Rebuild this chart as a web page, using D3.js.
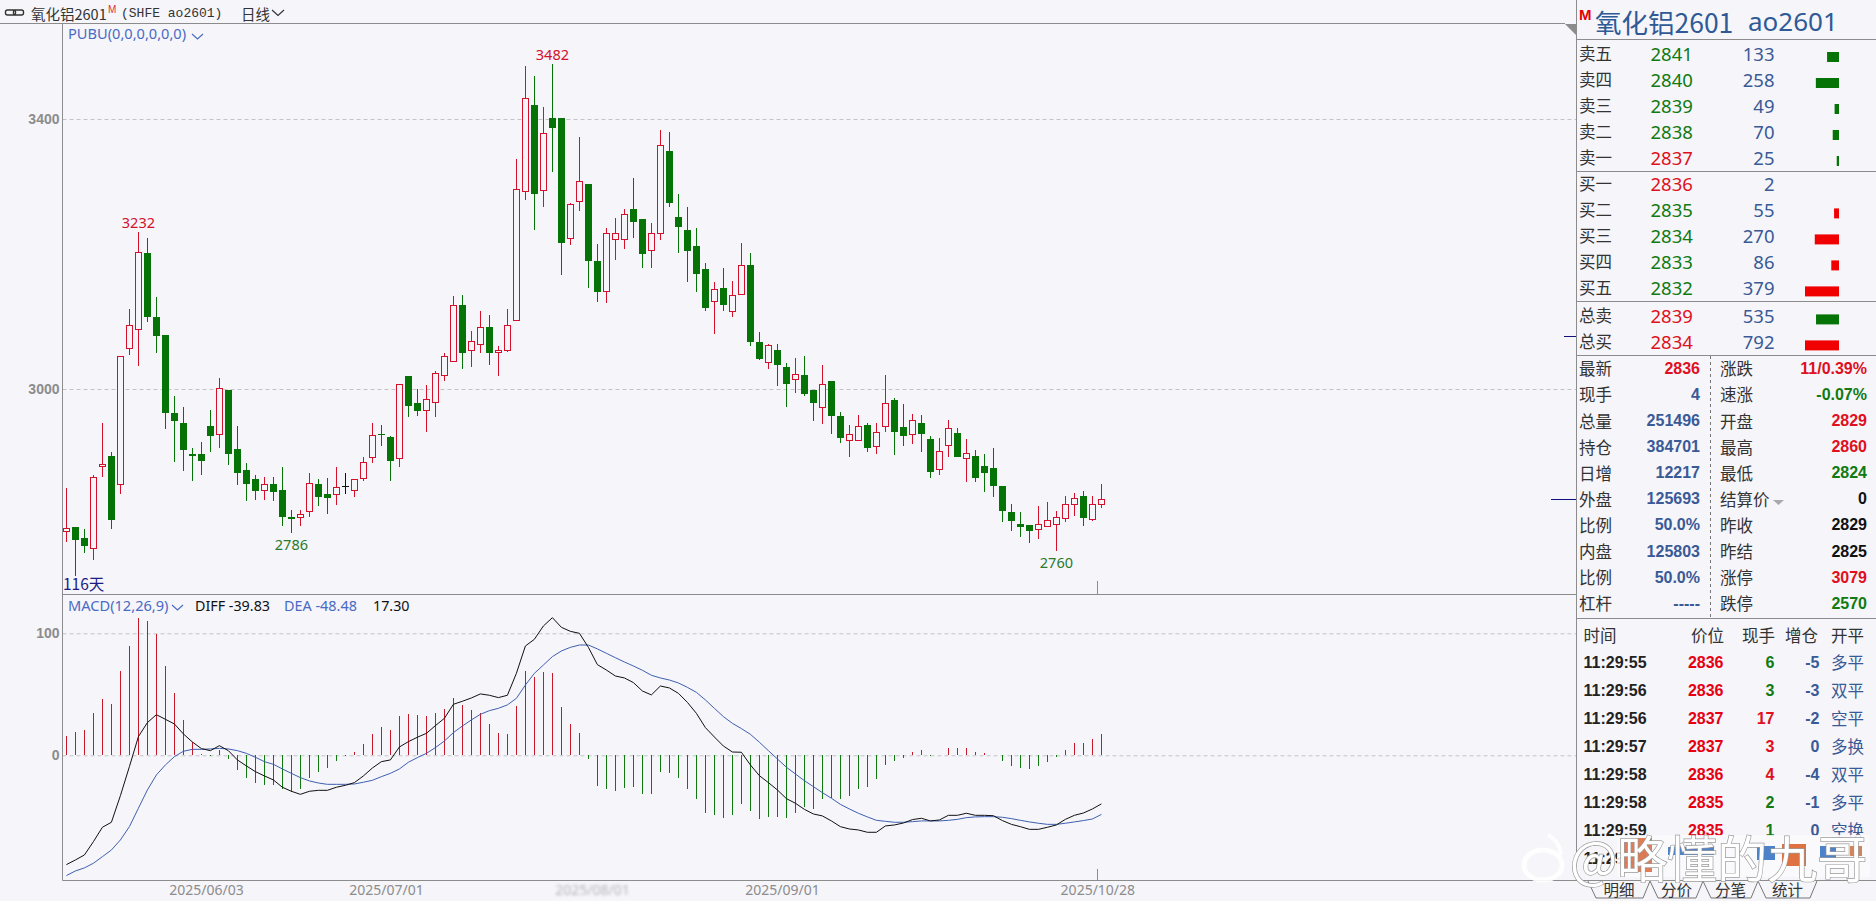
<!DOCTYPE html>
<html>
<head>
<meta charset="utf-8">
<title>氧化铝2601</title>
<script src="https://cdn.jsdelivr.net/npm/d3@7"></script>
<style>
  html, body { margin: 0; padding: 0; background: #f5f5fa; overflow: hidden; }
  svg { display: block; }
  text { font-family: "Noto Sans CJK SC", "Noto Sans", sans-serif; }
</style>
</head>
<body>
<script>
"use strict"

// daily candles
const openP = [2789,2795,2780,2764,2885,2901,2859,3060,3088,3202,
   3106,3080,2965,2949,2903,2903,2945,2932,2999,2911,
   2880,2866,2850,2859,2850,2811,2810,2819,2860,2845,
   2844,2856,2850,2867,2899,2934,2929,2897,3020,2979,
   2968,2980,3020,3041,3125,3057,3066,3092,3054,3057,
   3102,3292,3421,3294,3402,3402,3223,3278,3303,3190,
   3145,3221,3222,3267,3252,3205,3230,3352,3255,3236,
   3212,3178,3130,3150,3115,3140,3183,3070,3040,3058,
   3032,3014,3021,2999,2973,3012,2960,2923,2923,2946,
   2915,2945,2983,2944,2932,2950,2926,2881,2916,2935,
   2897,2901,2886,2883,2856,2818,2800,2798,2792,2797,
   2800,2808,2829,2842,2807,2829]
const closeP = [2793,2777,2768,2869,2888,2806,3048,3094,3202,3106,
   3078,2965,2953,2910,2901,2893,2931,3001,2904,2875,
   2860,2849,2859,2848,2811,2808,2814,2860,2840,2839,
   2854,2856,2866,2891,2931,2932,2894,3007,2975,2968,
   2985,3023,3048,3124,3054,3071,3091,3054,3057,3094,
   3296,3430,3289,3379,3387,3217,3273,3308,3189,3143,
   3230,3230,3258,3248,3200,3230,3361,3275,3240,3205,
   3171,3120,3147,3124,3138,3183,3069,3045,3064,3035,
   3008,3022,2992,2980,3006,2960,2928,2933,2945,2913,
   2935,2979,2937,2931,2953,2934,2877,2907,2942,2900,
   2904,2868,2875,2856,2820,2805,2796,2789,2800,2805,
   2809,2829,2838,2809,2829,2836]
const highP = [2854,2795,2792,2872,2949,2906,3048,3119,3232,3223,
   3136,3080,2990,2973,2912,2922,2969,3016,2999,2945,
   2891,2872,2869,2869,2885,2821,2821,2876,2866,2868,
   2884,2876,2866,2900,2949,2946,2930,3008,3020,3000,
   3006,3026,3054,3138,3139,3086,3116,3110,3064,3119,
   3341,3479,3463,3418,3482,3402,3276,3373,3303,3215,
   3239,3254,3266,3312,3252,3246,3384,3381,3289,3269,
   3239,3187,3159,3180,3160,3217,3201,3084,3067,3067,
   3039,3046,3049,2999,3036,3012,2966,2947,2961,2949,
   2950,3021,2987,2978,2963,2962,2931,2927,2954,2942,
   2926,2910,2904,2913,2857,2830,2818,2798,2827,2833,
   2819,2842,2846,2849,2842,2860]
const lowP = [2774,2723,2757,2746,2869,2793,2845,3051,3034,3100,
   3053,2941,2892,2878,2864,2872,2907,2913,2887,2858,
   2834,2836,2835,2834,2797,2786,2797,2811,2826,2815,
   2828,2845,2840,2863,2891,2915,2863,2885,2958,2960,
   2937,2958,3012,3041,3030,3032,3054,3036,3020,3055,
   3102,3280,3236,3269,3321,3169,3214,3263,3149,3129,
   3128,3191,3208,3223,3180,3180,3221,3269,3201,3159,
   3144,3115,3081,3115,3107,3140,3064,3043,3029,3005,
   2974,2994,2989,2953,2948,2934,2920,2900,2923,2906,
   2903,2937,2902,2915,2918,2906,2868,2872,2899,2900,
   2862,2862,2848,2840,2803,2790,2781,2772,2778,2795,
   2760,2803,2812,2797,2805,2824]

// MACD panel
const macdBar = [15.8,19,20.8,34.7,46,42,69,89.6,112.6,110,
   99.5,73,51,29,11,1,-0.3,4.4,-2.7,-12,
   -18.3,-23,-24,-24.3,-28,-30,-27.6,-18.9,-13.7,-10.4,
   -4.6,-0.3,2.5,9.3,17.5,23,20.8,32.5,34,33,
   32,34.4,38,47,41,37,34.4,25.7,18.3,17.5,
   40.4,69,64,68,67.5,39.6,25.7,18.3,-3,-24.9,
   -27.6,-29,-26.5,-26.2,-31.4,-31.4,-13.4,-14.5,-19,-27.6,
   -35.5,-47,-48.6,-51,-48.6,-40,-46,-52,-50.5,-50.3,
   -51,-47,-42,-43.7,-36,-35,-35.5,-33.3,-27.6,-26,
   -19.4,-7.9,-4.6,-1.9,2.7,4.4,-0.2,0.2,6.3,6,
   6.3,2.7,1.6,0,-4.6,-8.7,-10.4,-11.2,-8.7,-5.5,
   -1.4,4.4,10,10.4,13.4,17.3]
const diff = [-89.6,-85.8,-81.7,-70.8,-59,-54.9,-33.1,-9.3,15.3,26.8,
   33.3,29.5,25.7,17.5,10.9,5.5,3.8,7.9,3.8,-3.8,
   -8.7,-13.4,-16.9,-20.2,-26.2,-29.5,-32,-29.5,-28.7,-28.7,
   -26.2,-24.6,-22.4,-16.9,-10.4,-5.2,-3.8,6.8,11.2,14.8,
   18,24.3,30.3,41.8,44.3,47,50.3,49.2,47.3,49.2,
   67.2,89.6,95.1,106,112.8,104.9,101.6,100,88.5,74.3,
   69.9,65,63.4,59.6,52.7,49.5,56.8,55.2,50.8,43.4,
   34.4,22.7,15,7.6,2.7,2.5,-7.9,-16.7,-22.4,-28.4,
   -35.5,-39.3,-44.3,-48.1,-49.7,-53.8,-58.5,-60.4,-61.2,-63.1,
   -63.1,-57.9,-57.1,-55.5,-52.7,-51.6,-53.8,-53,-49.2,-49.2,
   -47.5,-49.2,-49.2,-49.5,-53.5,-56.6,-58.5,-60.7,-60.7,-59,
   -57.1,-52.5,-49.2,-47.3,-44,-39.83]
const dea = [-98.6,-94.8,-92.3,-88.5,-83.1,-77.6,-69.4,-58.5,-43.4,-28.4,
   -16.1,-7.9,-1.1,3.3,4.9,4.9,5.2,5.7,5.2,3.8,
   1.6,-1.6,-5.2,-7.4,-11.2,-14.8,-18.3,-21,-22.7,-23.8,
   -23.8,-23.8,-23.5,-22.1,-20.5,-17.5,-14.8,-11.2,-5.7,-1.9,
   1.6,6.3,11.7,18.6,24,29,33.6,36.6,38.5,41.3,
   46.7,57.6,67.2,74,80.9,85.5,88.5,90.4,90.4,87.2,
   83.6,80,76.5,73.2,69.7,65.6,63.4,61.7,59.3,55.7,
   51.6,45.4,38.5,31.7,26.2,21.9,17.2,10.7,3.8,-3,
   -9.8,-15.3,-20.8,-25.7,-30.6,-35.2,-40.2,-44,-47.5,-50.5,
   -53.3,-54.1,-54.9,-54.9,-54.4,-53.8,-53.8,-53.8,-53.3,-52.5,
   -51.1,-50.5,-50.3,-50.3,-50.8,-51.9,-53.3,-54.6,-55.7,-56.6,
   -56.6,-55.7,-54.6,-53.5,-52.2,-48.48]

const priceTicks = [3000, 3400]
const macdTicks = [0, 100]
const dateTicks = [15.5, 35.5, 58.4, 79.5, 114.55]
const dateLabels = ['2025/06/03', '2025/07/01', '2025/08/01', '2025/09/01', '2025/10/28']
const peakIdx = [8, 25, 54, 110]
const peakVal = [3232, 2786, 3482, 2760]

// quote panel
const bookLabels = ['卖五', '卖四', '卖三', '卖二', '卖一', '买一', '买二', '买三', '买四', '买五']
const bookPrices = [2841, 2840, 2839, 2838, 2837, 2836, 2835, 2834, 2833, 2832]
const bookVols = [133, 258, 49, 70, 25, 2, 55, 270, 86, 379]
const totalLabels = ['总卖', '总买']
const totalPrices = [2839, 2834]
const totalVols = [535, 792]
const statLabelsL = ['最新', '现手', '总量', '持仓', '日增', '外盘', '比例', '内盘', '比例', '杠杆']
const statValuesL = ['2836', '4', '251496', '384701', '12217', '125693', '50.0%', '125803', '50.0%', '-----']
const statLabelsR = ['涨跌', '速涨', '开盘', '最高', '最低', '结算价', '昨收', '昨结', '涨停', '跌停']
const statValuesR = ['11/0.39%', '-0.07%', '2829', '2860', '2824', '0', '2829', '2825', '3079', '2570']
const tickTimes = ['11:29:55', '11:29:56', '11:29:56', '11:29:57', '11:29:58', '11:29:58', '11:29:59', '11:29:59']
const tickPrices = [2836, 2836, 2837, 2837, 2836, 2835, 2835]
const tickHands = [6, 3, 17, 3, 4, 2, 1]
const tickDeltas = [-5, -3, -2, 0, -4, -1, 0]
const tickKinds = ['多平', '双平', '空平', '多换', '双平', '多平', '空换']
const tabNames = ['明细', '分价', '分笔', '统计']

const w = 1876
const h = 901
const bg = '#f5f5fa'
const red = '#d4102a'
const green = '#067306'
const blue = '#3a5a96'
const axisGrey = '#8c8c8c'
const sideFont = '"Noto Sans", sans-serif'
const boldFont = '"Liberation Sans", sans-serif'

const svg = d3.select('body').append('svg').attr('width', w).attr('height', h)
svg.append('rect').attr('width', w).attr('height', h).attr('fill', bg)

const x = d3.scaleLinear().domain([0, 115]).range([66.4, 1101.4])
const yPrice = d3.scaleLinear().domain([3000, 3400]).range([389, 119])
const yMacd = d3.scaleLinear().domain([0, 100]).range([755.3, 633.3])

function hline(x1, x2, y, color = axisGrey) {
   svg.append('line').attr('x1', x1).attr('x2', x2).attr('y1', y).attr('y2', y)
      .attr('stroke', color).attr('stroke-width', 1)
}
function vline(xp, y1, y2, color = axisGrey) {
   svg.append('line').attr('x1', xp).attr('x2', xp).attr('y1', y1).attr('y2', y2)
      .attr('stroke', color).attr('stroke-width', 1)
}
function label(str, xp, yp, size, color, anchor = 'start', family = null, weight = 'normal') {
   const t = svg.append('text').attr('x', xp).attr('y', yp)
      .attr('dominant-baseline', 'central')
      .attr('text-anchor', anchor)
      .attr('font-size', size)
      .attr('font-weight', weight)
      .attr('fill', color)
      .text(str)
   if (family) t.style('font-family', family)
   return t
}
function chevron(xp, yp, size, color) {
   svg.append('path')
      .attr('d', `M${xp},${yp} L${xp + size / 2},${yp + size * 0.45} L${xp + size},${yp}`)
      .attr('fill', 'none').attr('stroke', color).attr('stroke-width', 1.2)
}

// axes and gridlines
const gridW = 1576 - 62.5
const priceAxis = d3.axisLeft(yPrice).tickValues(priceTicks).tickSize(-gridW).tickPadding(3)
   .tickFormat(d3.format('d'))
const macdAxis = d3.axisLeft(yMacd).tickValues(macdTicks).tickSize(-gridW).tickPadding(3)
   .tickFormat(d3.format('d'))
;[[priceAxis, 'price-axis'], [macdAxis, 'macd-axis']].forEach(([axis, id]) => {
   const g = svg.append('g').attr('id', id).attr('transform', 'translate(62.5, 0)').call(axis)
   g.select('.domain').remove()
   g.selectAll('line').attr('stroke', '#c4c4c8').attr('stroke-dasharray', '4,3')
   g.selectAll('text').attr('fill', axisGrey).attr('font-size', 14).attr('font-weight', 'bold')
      .style('font-family', boldFont)
})

const dateAxis = d3.axisBottom(x).tickValues(dateTicks).tickSize(0).tickPadding(5)
   .tickFormat((d, i) => dateLabels[i])
const dateG = svg.append('g').attr('id', 'x-axis').attr('transform', 'translate(0, 880.5)').call(dateAxis)
dateG.select('.domain').remove()
dateG.selectAll('text').attr('fill', axisGrey).attr('font-size', 14).style('font-family', sideFont)
dateG.selectAll('text').filter((d, i) => i === 2).style('filter', 'blur(1.6px)').attr('opacity', 0.6)

// frame
vline(62.5, 23.5, 880.5)
vline(1576.5, 0, 880.5)
hline(0, 1565, 23.5)
hline(62.5, 1576, 594.5)
hline(62.5, 1876, 880.5)
vline(1097.5, 581, 594)
vline(1097.5, 869, 880)
svg.append('path').attr('d', 'M1565,24 L1576,24 L1576,35 Z').attr('fill', '#8c8c8c')
hline(1551, 1576, 499.5, '#101080')
hline(1564, 1576, 336.5, '#101080')

// candles
const candles = svg.append('g').attr('id', 'candles').attr('shape-rendering', 'crispEdges').selectAll('g')
   .data(openP.map((o, i) => ({ i, o, c: closeP[i], h: highP[i], l: lowP[i] })))
   .enter().append('g')
const colorOf = d => d.c > d.o ? red : d.c < d.o ? green : '#111'

candles.append('line')
   .attr('x1', d => x(d.i)).attr('x2', d => x(d.i))
   .attr('y1', d => yPrice(d.h)).attr('y2', d => yPrice(d.l))
   .attr('stroke', colorOf).attr('stroke-width', 1)
candles.filter(d => d.c > d.o).append('rect')
   .attr('x', d => x(d.i) - 2.9).attr('width', 5.8)
   .attr('y', d => yPrice(d.c)).attr('height', d => yPrice(d.o) - yPrice(d.c))
   .attr('fill', bg).attr('stroke', red).attr('stroke-width', 1)
candles.filter(d => d.c < d.o).append('rect')
   .attr('x', d => x(d.i) - 3.5).attr('width', 7)
   .attr('y', d => yPrice(d.o)).attr('height', d => Math.max(1.5, yPrice(d.c) - yPrice(d.o)))
   .attr('fill', green)
candles.filter(d => d.c === d.o).append('line')
   .attr('x1', d => x(d.i) - 3.5).attr('x2', d => x(d.i) + 3.5)
   .attr('y1', d => yPrice(d.o)).attr('y2', d => yPrice(d.o))
   .attr('stroke', '#111').attr('stroke-width', 1)

// high and low marks
peakIdx.forEach((idx, k) => {
   const isHigh = peakVal[k] === highP[idx]
   label(peakVal[k], x(idx), yPrice(peakVal[k]) + (isHigh ? -10 : 10.5), 14.5,
      isHigh ? red : '#2a7a2a', 'middle', sideFont)
})
label('116天', 63, 583, 15.5, '#1c1c86')
label('PUBU(0,0,0,0,0,0)', 68, 33, 14.6, '#4a6ac4', 'start', sideFont)
chevron(192, 34, 11, '#4a6ac4')

// MACD histogram and lines
svg.append('g').attr('id', 'macd-bars').attr('shape-rendering', 'crispEdges').selectAll('line')
   .data(macdBar).enter().append('line')
   .attr('x1', (d, i) => x(i)).attr('x2', (d, i) => x(i))
   .attr('y1', yMacd(0)).attr('y2', d => yMacd(d))
   .attr('stroke', d => d >= 0 ? '#c8182c' : '#107a10').attr('stroke-width', 1)
const macdLine = d3.line().x((d, i) => x(i)).y(d => yMacd(d))
svg.append('path').attr('d', macdLine(dea)).attr('fill', 'none').attr('stroke', '#3f5fb0').attr('stroke-width', 1)
svg.append('path').attr('d', macdLine(diff)).attr('fill', 'none').attr('stroke', '#111').attr('stroke-width', 1)

label('MACD(12,26,9)', 68, 605, 14.6, '#4a6ac4', 'start', sideFont)
chevron(172, 605, 11, '#4a6ac4')
label('DIFF -39.83', 195, 605, 14.3, '#111', 'start', sideFont)
label('DEA -48.48', 284, 605, 14.4, '#4a6ac4', 'start', sideFont)
label('17.30', 373, 605, 14.3, '#111', 'start', sideFont)

// top bar
svg.append('rect').attr('x', 5.5).attr('y', 10).attr('width', 10).attr('height', 5).attr('rx', 2)
   .attr('fill', 'none').attr('stroke', '#333').attr('stroke-width', 1.4)
svg.append('rect').attr('x', 13.5).attr('y', 10).attr('width', 10).attr('height', 5).attr('rx', 2)
   .attr('fill', 'none').attr('stroke', '#333').attr('stroke-width', 1.4)
label('氧化铝2601', 31, 13, 14.5, '#333')
label('M', 108, 9, 10, '#e0303a', 'start', boldFont)
label('(SHFE ao2601)', 121, 13, 13, '#333', 'start', '"Liberation Mono", monospace')
label('日线', 241, 13, 14.5, '#333')
chevron(272, 10, 12, '#333')

// quote panel header
label('M', 1579, 14, 15, '#e60000', 'start', boldFont, 'bold')
label('氧化铝2601', 1595, 21, 26.5, '#2f5a96')
label('ao2601', 1748, 21, 26, '#2f5a96', 'start', sideFont)

hline(1577, 1876, 39.5)
hline(1577, 1876, 171.5)
hline(1577, 1876, 301.5)
hline(1577, 1876, 355.5)
hline(1577, 1876, 618.5)
svg.append('line').attr('x1', 1710.5).attr('x2', 1710.5).attr('y1', 356).attr('y2', 618)
   .attr('stroke', '#777').attr('stroke-dasharray', '3,3')

// order book
const bookY = d3.scaleBand().domain(d3.range(5)).range([41.3, 171.3])
const bookY2 = d3.scaleBand().domain(d3.range(5)).range([171.7, 301.7])
const bookW = d3.scaleLinear().domain([0, 379]).range([0, 34])
const totalW = d3.scaleLinear().domain([0, 792]).range([0, 34])
const priceColor = p => p === 2836 || p === 2837 ? '#e01020' : '#117a11'

bookLabels.forEach((s, i) => {
   const yp = i < 5 ? bookY(i) + 13 : bookY2(i - 5) + 13
   label(s, 1579, yp - 1.5, 16.5, '#333')
   label(bookPrices[i], 1650.5, yp - 1, 18.5, priceColor(bookPrices[i]), 'start', sideFont)
   label(bookVols[i], 1774.5, yp - 1, 18.5, blue, 'end', sideFont)
   if (i === 5) return
   svg.append('rect').attr('x', 1839 - bookW(bookVols[i])).attr('y', yp - 2.3)
      .attr('width', bookW(bookVols[i])).attr('height', 10)
      .attr('fill', i < 5 ? '#067306' : '#f00000')
})
totalLabels.forEach((s, i) => {
   const yp = 316.7 + 26 * i
   label(s, 1579, yp - 1.5, 16.5, '#333')
   label(totalPrices[i], 1650.5, yp - 1, 18.5, '#e01020', 'start', sideFont)
   label(totalVols[i], 1774.5, yp - 1, 18.5, blue, 'end', sideFont)
   svg.append('rect').attr('x', 1839 - totalW(totalVols[i])).attr('y', yp - 2.3)
      .attr('width', totalW(totalVols[i])).attr('height', 10)
      .attr('fill', i === 0 ? '#067306' : '#f00000')
})

// stats block
const statY = d3.scaleLinear().domain([0, 9]).range([368.3, 603.3])
const statColL = i => i === 0 ? '#e01020' : blue
const statColR = i => ['#e01020', '#117a11', '#e01020', '#e01020', '#117a11', '#111', '#111', '#111', '#e01020', '#117a11'][i]
statLabelsL.forEach((s, i) => {
   label(s, 1579, statY(i), 16.5, '#333')
   label(statValuesL[i], 1700, statY(i), 16, statColL(i), 'end', boldFont, 'bold')
   label(statLabelsR[i], 1720, statY(i), 16.5, '#333')
   label(statValuesR[i], 1867, statY(i), 16, statColR(i), 'end', boldFont, 'bold')
})
svg.append('path').attr('d', 'M1773,500 L1784,500 L1778.5,505 Z').attr('fill', '#aaa')

// tick list, the last row is only readable as far as the time
label('时间', 1583.5, 635, 16.5, '#333')
label('价位', 1724, 635, 16.5, '#333', 'end')
label('现手', 1775, 635, 16.5, '#333', 'end')
label('增仓', 1818, 635, 16.5, '#333', 'end')
label('开平', 1864, 635, 16.5, '#333', 'end')
const tickY = d3.scaleLinear().domain([0, 7]).range([662.3, 858])
tickTimes.forEach((s, i) => {
   const yp = tickY(i)
   label(s, 1583.5, yp, 16, '#222', 'start', boldFont, 'bold')
   if (i >= tickPrices.length) return
   label(tickPrices[i], 1723.5, yp, 16, '#e60012', 'end', boldFont, 'bold')
   label(tickHands[i], 1774.5, yp, 16, i === 2 || i === 3 || i === 4 ? '#e01020' : '#117a11', 'end', boldFont, 'bold')
   label(tickDeltas[i], 1819.5, yp, 16, blue, 'end', boldFont, 'bold')
   label(tickKinds[i], 1864, yp, 16.5, blue, 'end')
})

// tabs
const tabEdges = [1588, 1650, 1703, 1758, 1817]
tabNames.forEach((s, i) => {
   const xl = tabEdges[i]
   const xr = tabEdges[i + 1]
   svg.append('path').attr('d', `M${xl},881 L${xl + 8},898 L${xr - 7},898 L${xr},881`)
      .attr('fill', i === 0 ? '#f5f5fa' : 'none').attr('stroke', '#777').attr('stroke-width', 1)
   label(s, (xl + xr) / 2, 889, 15.5, '#333', 'middle')
})

// weibo watermark over the last row, with what shows of that row through it
svg.append('rect').attr('x', 1617).attr('y', 835).attr('width', 253).attr('height', 42)
   .attr('fill', '#fbfbfd').attr('opacity', 0.88)
;[[1622, 838, 30, 34, '#d8663a'], [1668, 847, 46, 8, '#2c6cc0'], [1757, 846, 18, 14, '#2c6cc0'],
  [1782, 844, 24, 22, '#d85a20'], [1820, 846, 16, 12, '#2c6cc0'], [1850, 846, 12, 10, '#c87040']]
   .forEach(b => {
      svg.append('rect').attr('x', b[0]).attr('y', b[1]).attr('width', b[2]).attr('height', b[3])
         .attr('fill', b[4]).attr('opacity', 0.85)
   })
svg.append('ellipse').attr('cx', 1543).attr('cy', 865).attr('rx', 19).attr('ry', 15)
   .attr('fill', 'none').attr('stroke', '#fff').attr('stroke-width', 5).attr('opacity', 0.9)
svg.append('path').attr('d', 'M1548,835 A24,24 0 0 1 1561,855')
   .attr('fill', 'none').attr('stroke', '#fff').attr('stroke-width', 4).attr('opacity', 0.9)
label('@略懂的九哥', 1570, 856, 50, '#ffffff')
   .attr('stroke', '#9a9a9a').attr('stroke-width', 1.4)
   .attr('paint-order', 'stroke')
</script>
</body>
</html>
